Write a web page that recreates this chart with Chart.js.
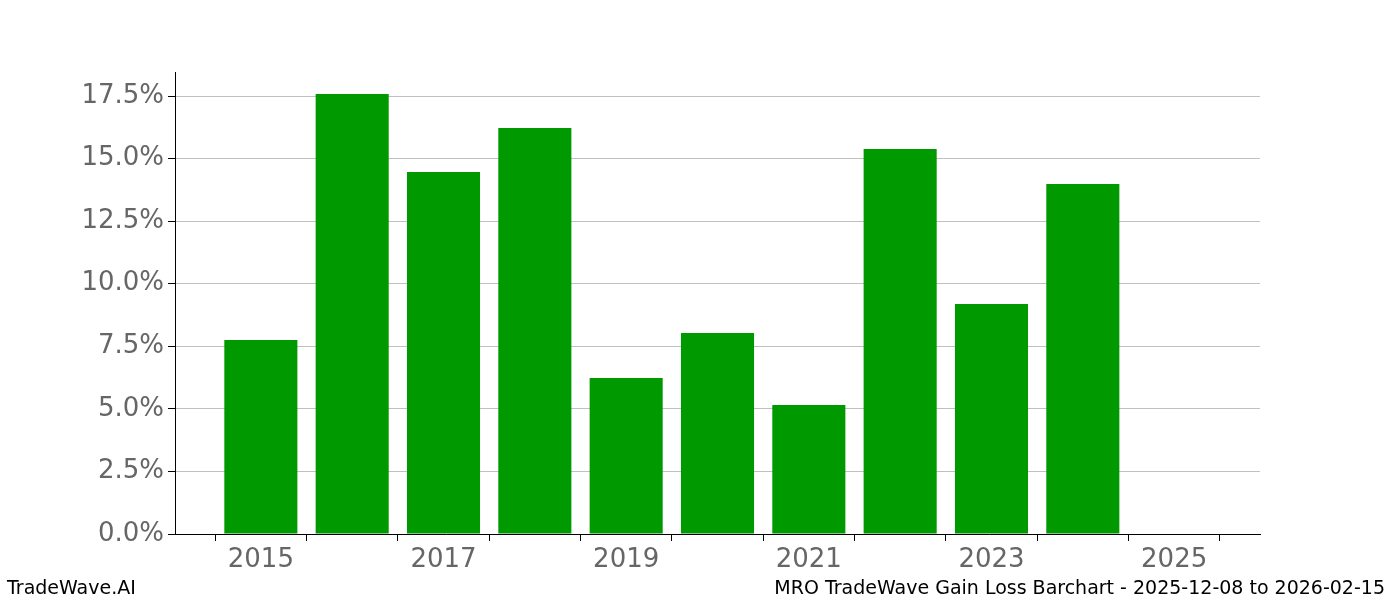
<!DOCTYPE html>
<html><head><meta charset="utf-8">
<script src="https://cdn.jsdelivr.net/npm/chart.js@4"></script>
<style>
body{margin:0;background:#fff;font-family:"DejaVu Sans",sans-serif}
#wrap{position:relative;width:1400px;height:600px}
.foot{position:absolute;top:576px;font-size:19px;color:#000}
</style></head><body>
<div id="wrap"><canvas id="c" width="1400" height="600"></canvas>
<div class="foot" style="left:7px">TradeWave.AI</div>
<div class="foot" style="right:15px">MRO TradeWave Gain Loss Barchart - 2025-12-08 to 2026-02-15</div>
</div>
<script>
const years=[2015,2016,2017,2018,2019,2020,2021,2022,2023,2024];
const gains=[7.75,17.58,14.46,16.22,6.23,8.03,5.15,15.38,9.19,13.98];
const xTicks=[2015,2016,2017,2018,2019,2020,2021,2022,2023,2024,2025];
const yTicks=[0,2.5,5,7.5,10,12.5,15,17.5];

new Chart(document.getElementById("c"),{
  type:"bar",
  data:{datasets:[{data:years.map(function(y,i){return {x:y,y:gains[i]};}),backgroundColor:"#009900",barPercentage:0.8,categoryPercentage:1}]},
  options:{
    responsive:false,animation:false,
    layout:{padding:{top:72,right:140,left:0,bottom:0}},
    plugins:{legend:{display:false},tooltip:{enabled:false}},
    scales:{
      x:{type:"linear",min:2014.06,max:2025.94,offset:false,
        afterBuildTicks:function(s){s.ticks=xTicks.map(function(v){return {value:v};});},
        afterFit:function(s){s.height=66;},
        ticks:{color:"#666",font:{size:26,family:"DejaVu Sans"},padding:4,maxRotation:0,autoSkip:false,
          callback:function(v){return v%2===1?String(v):"";}},
        grid:{drawOnChartArea:false,drawTicks:true,tickLength:7,color:"#000"},
        border:{color:"#000"}},
      y:{min:0,max:18.46,
        afterBuildTicks:function(s){s.ticks=yTicks.map(function(v){return {value:v};});},
        afterFit:function(s){s.width=175;},
        ticks:{color:"#666",font:{size:26,family:"DejaVu Sans"},padding:4,
          callback:function(v){return v.toFixed(1)+"%";}},
        grid:{color:"#c0c0c0",tickColor:"#000",tickLength:7},
        border:{color:"#000"}}
    }
  }
});
</script></body></html>
